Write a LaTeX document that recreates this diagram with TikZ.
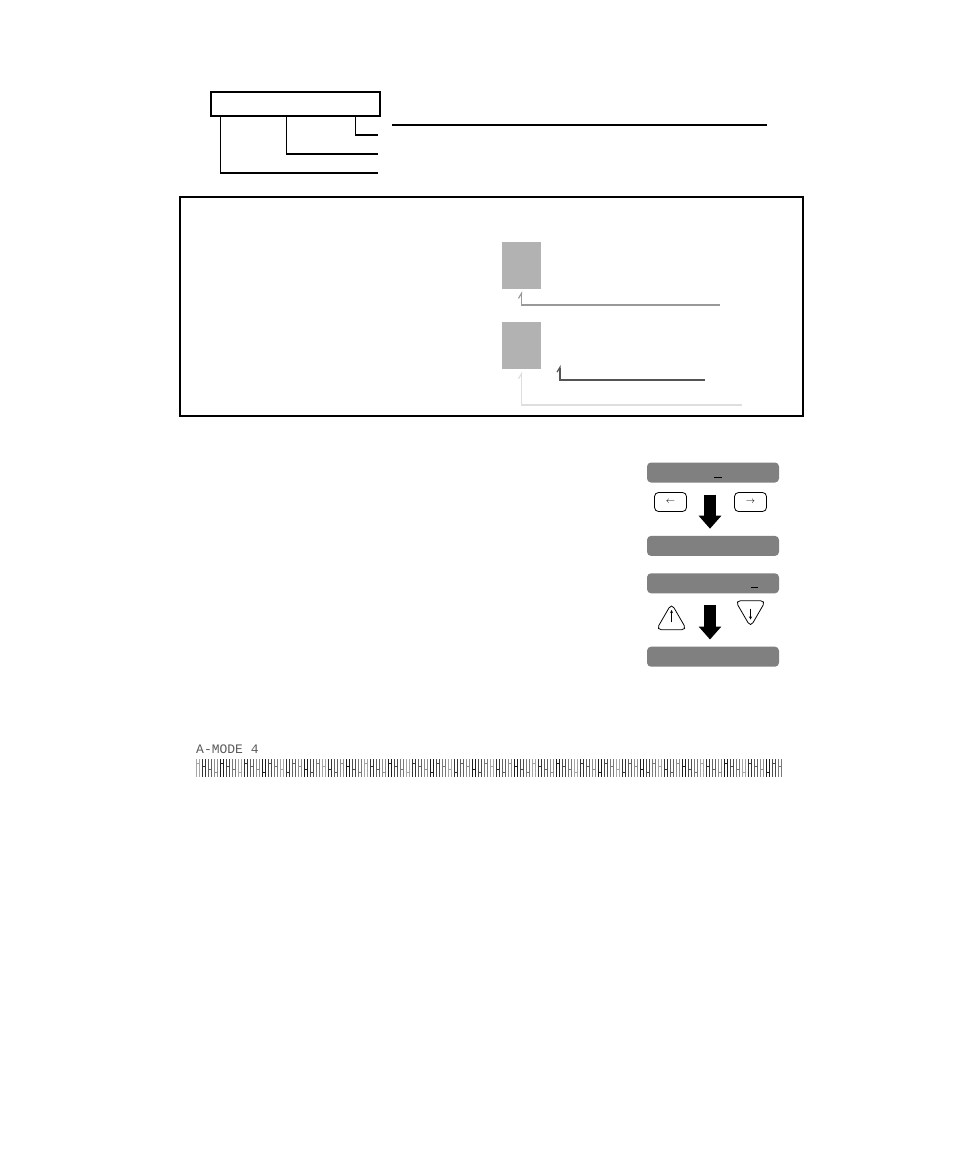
\documentclass[tikz,border=0pt]{standalone}
\usepackage{fontspec}
\setmonofont{Liberation Mono}
\usetikzlibrary{arrows.meta,positioning,shapes.geometric}

\begin{document}
\begin{tikzpicture}[x=1pt,y=-1pt,node distance=16pt,
  frame/.style={draw,line width=1.3pt,inner sep=0pt},
  leader/.style={line width=1.3pt},
  field box/.style={fill=black!30,minimum width=39pt,minimum height=47pt,inner sep=0pt},
  pointer/.style={line width=1.2pt,-{Straight Barb[left,length=5pt,width=6pt]}},
  display bar/.style={fill=black!50,rounded corners=4pt,minimum width=132pt,minimum height=20pt,inner sep=0pt},
  key node/.style={draw,line width=0.8pt,rounded corners=4pt,minimum width=32pt,minimum height=19pt,inner sep=0pt,font=\small},
  tri key/.style={draw,line width=0.8pt,regular polygon,regular polygon sides=3,rounded corners=5pt,minimum size=35pt,inner sep=0pt},
  small arrow/.style={line width=0.8pt,-{Stealth[length=3pt,width=3pt]}},
  big arrow/.style={line width=12pt,-{Triangle[width=22pt,length=13pt]}}]
    \useasboundingbox (0,0) rectangle (954,1169);

    % code box with its leaders
    \node[frame,minimum width=169pt,minimum height=24pt](code) at (295.5,104){};
    \coordinate (c1) at (378,135);
    \coordinate (c2) at (378,154);
    \coordinate (c3) at (378,173);
    \coordinate (u1) at (392,125);
    \coordinate (u2) at (767,125);
    \draw[leader] ([xshift=10pt]code.south west) |- (c3);
    \draw[leader] ([xshift=76pt]code.south west) |- (c2);
    \draw[leader] ([xshift=145pt]code.south west) |- (c1);
    \draw[leader] (u1) -- (u2);

    % panel with the two fields
    \node[frame,minimum width=623pt,minimum height=219pt](panel) at (491.5,306.5){};
    \node[field box](f1) at (521.5,265.5){};
    \node[field box,below=33pt of f1](f2){};
    \coordinate (e1) at (720,305);
    \coordinate (e2) at (742,405);
    \coordinate (e3) at (705,380);
    \coordinate (t3) at (560,365);
    \draw[pointer,black!40] (e1) -| ([yshift=-2pt]f1.south);
    \draw[pointer,black!13] (e2) -| ([yshift=-2pt]f2.south);
    \draw[pointer,black!67] (e3) -| (t3);

    % displays and keys
    \node[display bar](d1) at (713,472.5){};
    \node[display bar,below=53pt of d1](d2){};
    \node[display bar,below=17pt of d2](d3){};
    \node[display bar,below=53pt of d3](d4){};
    \node[key node](kl) at (670.5,502){$\leftarrow$};
    \node[key node](kr) at (750.5,502){$\rightarrow$};
    \node[tri key](ku) at (671.5,621){};
    \node[tri key,shape border rotate=180](kd) at (750.5,609.5){};
    \draw[small arrow] ([yshift=-1pt]ku.center) -- ([yshift=11pt]ku.center);
    \draw[small arrow] ([yshift=1pt]kd.center) -- ([yshift=-10pt]kd.center);
    \draw[line width=1pt] ([xshift=1pt,yshift=-5pt]d1.center) -- +(8,0);
    \draw[line width=1pt] ([xshift=38pt,yshift=-4.5pt]d3.center) -- +(7,0);
    \draw[big arrow,shorten <=12pt,shorten >=7pt] ([xshift=-3pt]d1.south) -- ([xshift=-3pt]d2.north);
    \draw[big arrow,shorten <=11pt,shorten >=7pt] ([xshift=-3pt]d3.south) -- ([xshift=-3pt]d4.north);

    % printout
    \node[anchor=base west,inner sep=0pt,text=black!65,
      font=\ttfamily\fontsize{13}{15}\selectfont](mode) at (196,753){A-MODE 4};
    \foreach \i in {0,...,97}{
      \pgfmathtruncatemacro\shade{35+mod(\i*47,7)*9}
      \pgfmathtruncatemacro\tick{763+mod(\i*13,4)*3}
      \draw[black!\shade,line width=0.7pt] (196+6*\i,759) -- +(0,18)
        (199.5+6*\i,759) -- +(0,18) (196+6*\i,\tick) -- +(3.5,0);
    }

\end{tikzpicture}
\end{document}
